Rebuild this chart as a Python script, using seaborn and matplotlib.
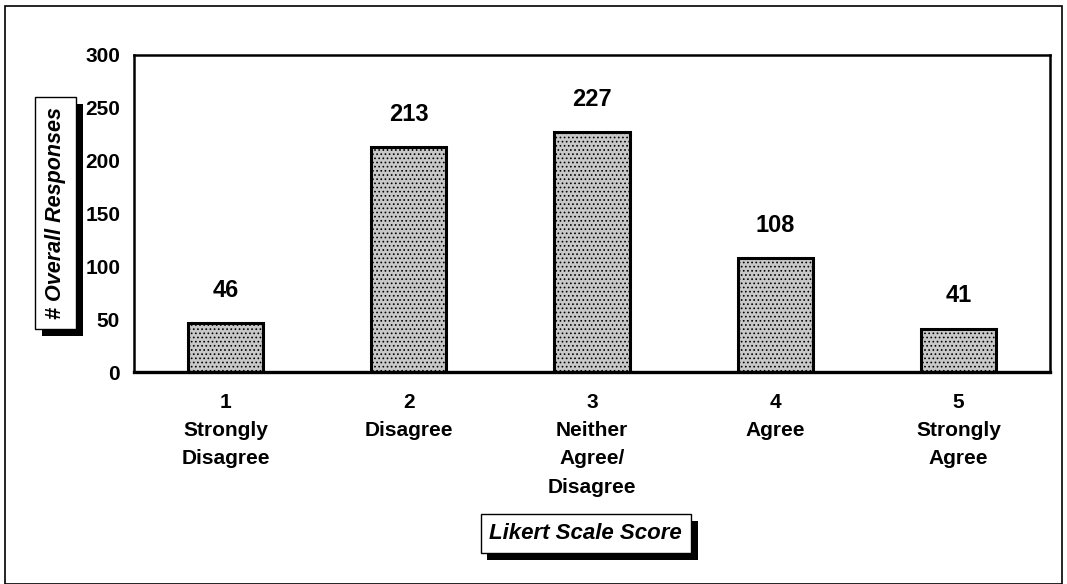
import matplotlib
matplotlib.use("Agg")
import matplotlib.pyplot as plt
import matplotlib.patheffects as pe
import seaborn as sns
import pandas as pd
from matplotlib.patches import Rectangle

scores = ["1", "2", "3", "4", "5"]
labels = ["Strongly\nDisagree", "Disagree", "Neither\nAgree/\nDisagree", "Agree", "Strongly\nAgree"]
responses = [46, 213, 227, 108, 41]

FONT = ["Liberation Sans", "DejaVu Sans"]


def boxed_text(fig, x, y, s, rotation=0, size=14, pad=0.4):
    # white box with a solid black drop shadow (bottom-right)
    t = fig.text(x, y, s, ha="center", va="center", rotation=rotation, fontsize=size,
                 fontweight="bold", fontstyle="italic", color="black",
                 bbox=dict(boxstyle=f"square,pad={pad}", fc="white", ec="black", lw=1))
    t.get_bbox_patch().set_path_effects([
        pe.SimplePatchShadow(offset=(5, -5), shadow_rgbFace="black", alpha=1.0),
        pe.Normal(),
    ])
    return t


def main():
    sns.set_style("white")
    plt.rcParams["font.family"] = FONT
    plt.rcParams["text.color"] = "black"
    plt.rcParams["xtick.color"] = "black"
    plt.rcParams["ytick.color"] = "black"
    plt.rcParams["hatch.color"] = "#4a4a4a"

    df = pd.DataFrame({
        "Category": [f"{s}\n{l}" for s, l in zip(scores, labels)],
        "Responses": responses,
    })

    fig = plt.figure(figsize=(10.67, 5.84), dpi=100)
    ax = fig.add_axes([0.1256, 0.363, 0.8585, 0.543])

    sns.barplot(data=df, x="Category", y="Responses", color="#c8c8c8",
                width=0.41, edgecolor="black", linewidth=2.2, ax=ax)
    for p in ax.patches:
        p.set_hatch("....")
        p.set_hatch_linewidth(0.7)

    for i, v in enumerate(responses):
        ax.text(i, v + 31, str(v), ha="center", va="center",
                fontsize=17, fontweight="bold", color="black")

    ax.set_ylim(0, 300)
    ax.set_xlim(-0.5, 4.5)
    ax.set_yticks(range(0, 301, 50))
    ax.set_xticks([i + 0.5 for i in range(-1, 5)], minor=True)
    ax.set_xticks(range(5))
    ax.set_xticklabels(df["Category"], fontsize=15, fontweight="bold", linespacing=1.62)
    ax.tick_params(axis="x", which="major", length=0, pad=15)
    ax.tick_params(axis="x", which="minor", length=6, width=1, direction="out")
    ax.tick_params(axis="y", length=5, width=1, direction="out", labelsize=15, pad=5)
    for t in ax.get_yticklabels():
        t.set_fontweight("bold")
    ax.set_xlabel("")
    ax.set_ylabel("")
    for side in ["left", "right", "top", "bottom"]:
        ax.spines[side].set_visible(True)
        ax.spines[side].set_color("black")
        ax.spines[side].set_linewidth(1.8)
    ax.spines["bottom"].set_linewidth(2.4)

    boxed_text(fig, 0.052, 0.635, "# Overall Responses", rotation=90, size=15.5, pad=0.45)
    boxed_text(fig, 0.549, 0.087, "Likert Scale Score", size=16, pad=0.4)

    fig.add_artist(Rectangle((0.005, 0.0), 0.99, 0.99, transform=fig.transFigure,
                             fill=False, ec="black", lw=1.2))

    fig.savefig("out.png", dpi=100)


if __name__ == "__main__":
    main()
